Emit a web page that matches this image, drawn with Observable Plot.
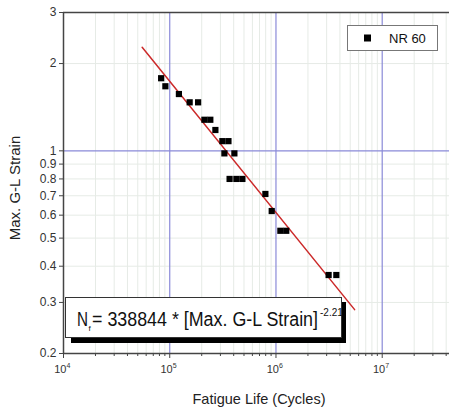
<!DOCTYPE html>
<html>
<head>
<meta charset="utf-8">
<script src="https://cdn.jsdelivr.net/npm/d3@7"></script>
<script src="https://cdn.jsdelivr.net/npm/@observablehq/plot@0.6"></script>
<style>
  body { margin: 0; background: #fff; font-family: "Liberation Sans", Arial, sans-serif; }
  #wrap { position: relative; width: 449px; height: 412px; overflow: hidden; }
</style>
</head>
<body>
<div id="wrap"></div>
<script>
// Data
const cycles = [83000, 91000, 122000, 154000, 185000, 212000, 241000, 269000, 313000, 357000,
                327000, 406000, 366000, 424000, 483000, 795000, 912000, 1100000, 1250000, 3130000, 3700000];
const strain = [1.78, 1.67, 1.57, 1.47, 1.47, 1.28, 1.28, 1.18, 1.08, 1.08,
                0.98, 0.98, 0.80, 0.80, 0.80, 0.71, 0.62, 0.53, 0.53, 0.373, 0.373];
const seriesName = "NR 60";
const xTitle = "Fatigue Life (Cycles)";
const yTitle = "Max. G-L Strain";
const fitCoef = 338844;
const fitExp = -2.21;
const fitRangeN = [55000, 5500000];
const xMajor = [1e4, 1e5, 1e6, 1e7];
const xMinor = [2e4,3e4,4e4,5e4,6e4,7e4,8e4,9e4,2e5,3e5,4e5,5e5,6e5,7e5,8e5,9e5,2e6,3e6,4e6,5e6,6e6,7e6,8e6,9e6,2e7,3e7,4e7];
const yTicks = [0.2, 0.3, 0.4, 0.5, 0.6, 0.7, 0.8, 0.9, 1, 2, 3];
const yTickLabels = ["0.2","0.3","0.4","0.5","0.6","0.7","0.8","0.9","1","2","3"];
const yMinorGrid = [0.3, 0.4, 0.5, 0.6, 0.7, 0.8, 0.9, 2];
const xMajorGrid = [1e5, 1e6, 1e7];
const yMajorGrid = [1];
const xTickExp = ["4","5","6","7"];

const points = cycles.map((n, i) => ({n, s: strain[i]}));
const fitLine = fitRangeN.map(n => ({n, s: Math.pow(n / fitCoef, 1 / fitExp)}));
const yLab = yTicks.map((v, i) => ({v, t: yTickLabels[i]}));
const xLab = xMajor.map((v, i) => ({v, e: xTickExp[i]}));

const chart = Plot.plot({
  width: 449,
  height: 412,
  marginLeft: 63,
  marginRight: 0,
  marginTop: 12,
  marginBottom: 59,
  style: {fontFamily: "Liberation Sans, Arial, sans-serif", color: "#222", background: "#fff"},
  x: {type: "log", domain: [1e4, 4.3e7]},
  y: {type: "log", domain: [0.2, 3]},
  marks: [
    Plot.ruleX(xMinor, {stroke: "#e6ebe6", strokeWidth: 1}),
    Plot.ruleY(yMinorGrid, {stroke: "#e6ebe6", strokeWidth: 1}),
    Plot.ruleX(xMajorGrid, {stroke: "#8a8ad8", strokeWidth: 1.2}),
    Plot.ruleY(yMajorGrid, {stroke: "#8a8ad8", strokeWidth: 1.2}),
    Plot.ruleY([3], {stroke: "#444", strokeWidth: 1.5}),
    Plot.ruleY([0.2], {stroke: "#444", strokeWidth: 1.5}),
    Plot.ruleX([1e4], {stroke: "#444", strokeWidth: 1.5}),
    Plot.axisX(xMajor, {tickSize: 5, text: null, stroke: "#444", label: null}),
    Plot.axisX(xMinor, {tickSize: 3, text: null, stroke: "#444", label: null}),
    Plot.text(xLab, {x: "v", frameAnchor: "bottom", dy: 19, text: d => "10", fontSize: 11, fill: "#333", textAnchor: "end", dx: 3}),
    Plot.text(xLab, {x: "v", frameAnchor: "bottom", dy: 14, text: "e", fontSize: 7, fill: "#333", textAnchor: "start", dx: 3}),
    Plot.axisY(yTicks, {tickSize: 4, text: null, stroke: "#444", label: null}),
    Plot.text(yLab, {y: "v", frameAnchor: "left", dx: -7, text: "t", textAnchor: "end", fontSize: 12, fill: "#333"}),
    Plot.line(fitLine, {x: "n", y: "s", stroke: "#cc2a2a", strokeWidth: 1.5}),
    Plot.dot(points, {x: "n", y: "s", symbol: "square", r: 3.5, fill: "#000", stroke: "none"})
  ]
});

const svg = d3.select(chart);
// axis titles
svg.append("text").attr("x", 259).attr("y", 404).attr("text-anchor", "middle")
  .attr("font-size", 14.5).attr("fill", "#222").text(xTitle);
svg.append("text").attr("transform", "translate(20,188) rotate(-90)").attr("text-anchor", "middle")
  .attr("font-size", 15).attr("fill", "#222").text(yTitle);
// equation box
const eg = svg.append("g").attr("text-anchor", "start").attr("fill", "#111");
eg.append("rect").attr("x", 71).attr("y", 302).attr("width", 275).attr("height", 41).attr("fill", "#000");
eg.append("rect").attr("x", 65.5).attr("y", 297.5).attr("width", 276).attr("height", 40).attr("fill", "#fff").attr("stroke", "#333");
eg.append("text").attr("x", 77).attr("y", 326).attr("font-size", 20)
  .attr("textLength", 11).attr("lengthAdjust", "spacingAndGlyphs").text("N");
eg.append("text").attr("x", 88.5).attr("y", 331).attr("font-size", 8).text("f");
eg.append("text").attr("x", 92).attr("y", 326).attr("font-size", 20)
  .attr("textLength", 226).attr("lengthAdjust", "spacingAndGlyphs")
  .text("= " + fitCoef + " * [Max. G-L Strain]");
eg.append("text").attr("x", 320).attr("y", 316).attr("font-size", 10).text(String(fitExp));
// legend
const lg = svg.append("g").attr("text-anchor", "start");
lg.append("rect").attr("x", 347.5).attr("y", 25.5).attr("width", 90).attr("height", 25).attr("fill", "#fff").attr("stroke", "#777");
lg.append("rect").attr("x", 364).attr("y", 34.5).attr("width", 7).attr("height", 7).attr("fill", "#000");
lg.append("text").attr("x", 389).attr("y", 42.5).attr("font-size", 13).attr("fill", "#111").text(seriesName);

document.getElementById("wrap").appendChild(chart);
</script>
</body>
</html>
